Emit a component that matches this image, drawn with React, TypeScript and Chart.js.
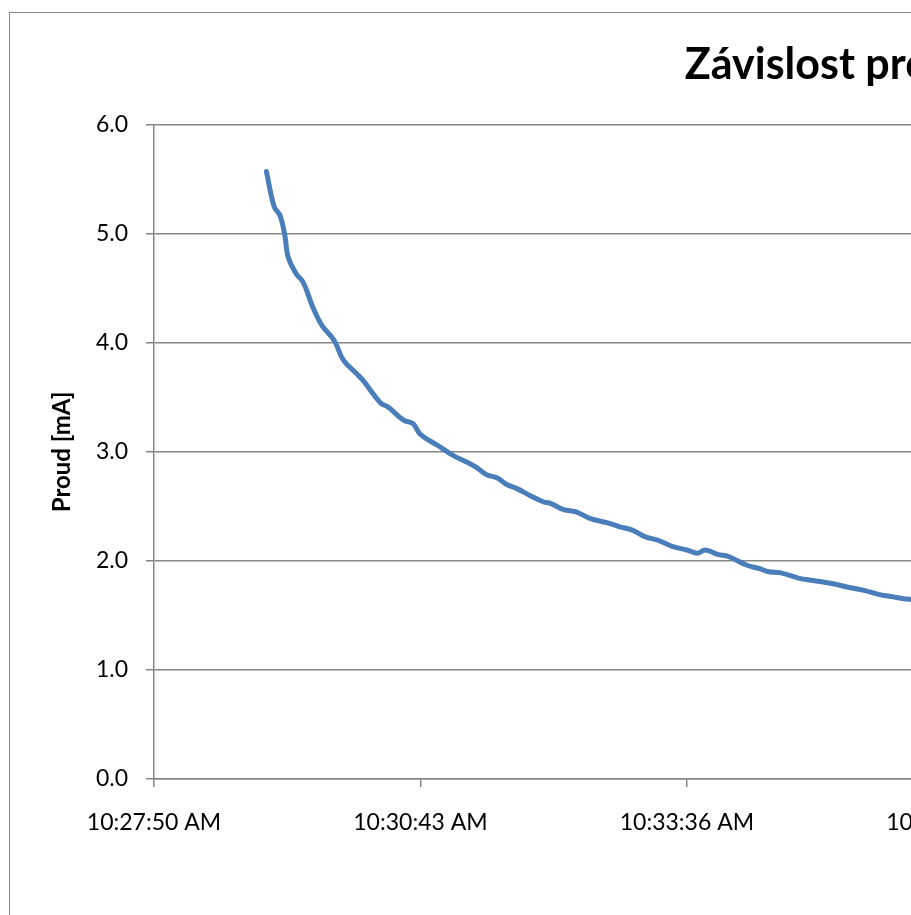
import React, { useEffect, useRef } from "react";
import { Chart, registerables } from "chart.js";

Chart.register(...registerables);

// ---- data ----
const chartTitle = "Závislost proudu na čase";
const yAxisTitle = "Proud [mA]";

// seconds elapsed since 10:27:50 AM
const elapsedSeconds = [
  73, 78, 82, 85, 87, 92, 97, 103, 109, 117,
  123, 132, 136, 147, 152, 162, 168, 173, 184, 195,
  201, 209, 216, 223, 229, 236, 244, 253, 257, 266,
  274, 283, 294, 303, 311, 319, 327, 337, 346, 353,
  358, 366, 373, 385, 393, 399, 407, 419, 428, 441,
  450, 461, 471, 480, 488, 498, 511,
];

// current in mA
const currentMA = [
  5.57, 5.25, 5.16, 4.98, 4.79, 4.64, 4.55, 4.33, 4.16, 4.02,
  3.84, 3.71, 3.65, 3.45, 3.41, 3.29, 3.26, 3.16, 3.06, 2.96,
  2.92, 2.86, 2.79, 2.76, 2.70, 2.66, 2.60, 2.54, 2.53, 2.47,
  2.45, 2.39, 2.35, 2.31, 2.28, 2.22, 2.19, 2.13, 2.10, 2.07,
  2.10, 2.06, 2.04, 1.96, 1.93, 1.90, 1.89, 1.84, 1.82, 1.79,
  1.76, 1.73, 1.69, 1.67, 1.65, 1.64, 1.61,
];

const timeTickLabels = [
  "10:27:50 AM",
  "10:30:43 AM",
  "10:33:36 AM",
  "10:36:29 AM",
  "10:39:22 AM",
  "10:42:14 AM",
  "10:45:07 AM",
];
const timeTickStep = 173;

const valueTickLabels = ["0.0", "1.0", "2.0", "3.0", "4.0", "5.0", "6.0"];

// ---- style / layout ----
const FONT = "Lato";
const TITLE_SIZE = 43;
const YTITLE_SIZE = 24;
const GRID = "#868686";
const LINE = "#4A7EBB";

export default function App() {
  const canvasRef = useRef<HTMLCanvasElement | null>(null);
  const boxRef = useRef<HTMLDivElement | null>(null);

  useEffect(() => {
    const canvas = canvasRef.current!;
    const box = boxRef.current!;
    const m = document.createElement("canvas").getContext("2d")!;
    m.font = `bold ${TITLE_SIZE}px ${FONT}`;
    const tw = m.measureText(chartTitle).width;

    const titleStart = 675; // canvas x where the title text begins
    const plotLeft = 144;
    const plotRight = 1742.7;
    const plotBottom = 766;
    const W = Math.max(Math.round(2 * titleStart + tw), Math.round(plotRight + 20));
    const H = 1000;

    canvas.width = W;
    canvas.height = H;
    canvas.style.width = W + "px";
    canvas.style.height = H + "px";
    box.style.width = W + "px";
    box.style.height = H + "px";

    const yTitleCenter = 52;
    const yTitleLine = YTITLE_SIZE * 1.2;

    const chart = new Chart(canvas, {
      type: "line",
      data: {
        datasets: [
          {
            data: elapsedSeconds.map((t, i) => ({ x: t, y: currentMA[i] })),
            borderColor: LINE,
            backgroundColor: LINE,
            borderWidth: 5,
            borderCapStyle: "round",
            borderJoinStyle: "round",
            pointRadius: 0,
            tension: 0.4,
            fill: false,
            xAxisID: "x",
            yAxisID: "y",
          },
        ],
      },
      options: {
        responsive: false,
        animation: false,
        events: [],
        layout: { padding: 0 },
        plugins: {
          legend: { display: false },
          tooltip: { enabled: false },
          title: {
            display: true,
            text: chartTitle,
            color: "#000",
            font: { family: FONT, size: TITLE_SIZE, weight: "bold" },
            padding: { top: 26, bottom: 34 },
          },
        },
        scales: {
          x: {
            type: "linear",
            position: "bottom",
            min: 0,
            max: timeTickStep * (timeTickLabels.length - 1),
            ticks: {
              stepSize: timeTickStep,
              autoSkip: false,
              maxRotation: 0,
              padding: 22,
              color: "#000",
              font: { family: FONT, size: 23 },
              callback: (v: any) => timeTickLabels[Math.round(Number(v) / timeTickStep)],
            },
            grid: {
              drawOnChartArea: false,
              drawTicks: true,
              tickLength: 8,
              color: GRID,
              lineWidth: 1.5,
            },
            border: { display: true, color: GRID, width: 1.5 },
            afterFit: (s: any) => {
              s.height = H - plotBottom;
              s.paddingLeft = 0;
              s.paddingRight = 0;
            },
          },
          y: {
            type: "linear",
            position: "left",
            min: 0,
            max: 6,
            ticks: {
              stepSize: 1,
              padding: 18,
              color: "#000",
              font: { family: FONT, size: 23 },
              callback: (v: any) => valueTickLabels[Math.round(Number(v))],
            },
            grid: {
              color: GRID,
              lineWidth: 1.5,
              drawTicks: true,
              tickLength: 8,
            },
            border: { display: true, color: GRID, width: 1.5 },
            title: {
              display: true,
              text: yAxisTitle,
              color: "#000",
              font: { family: FONT, size: YTITLE_SIZE, weight: "bold" },
              padding: { top: yTitleCenter - yTitleLine / 2, bottom: 0 },
            },
            afterFit: (s: any) => {
              s.width = plotLeft;
            },
          },
          yRight: {
            type: "linear",
            position: "right",
            display: true,
            ticks: { display: false },
            grid: { display: false },
            border: { display: false },
            afterFit: (s: any) => {
              s.width = W - plotRight;
              s.paddingTop = 0;
              s.paddingBottom = 0;
            },
          },
        },
      },
    } as any);

    return () => chart.destroy();
  }, []);

  return (
    <div
      style={{
        position: "fixed",
        left: 0,
        top: 0,
        width: 911,
        height: 915,
        overflow: "hidden",
        background: "#fff",
      }}
    >
      <div
        ref={boxRef}
        style={{
          position: "absolute",
          left: 9,
          top: 12,
          border: "1px solid #868686",
          background: "#fff",
        }}
      >
        <canvas ref={canvasRef} style={{ display: "block" }} />
      </div>
    </div>
  );
}
